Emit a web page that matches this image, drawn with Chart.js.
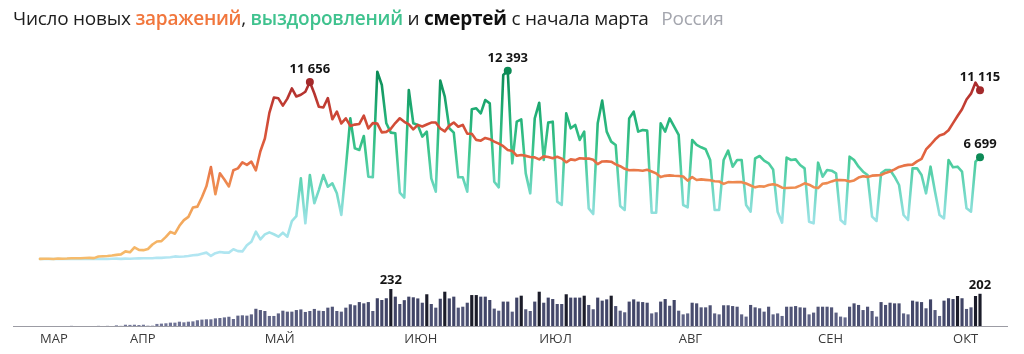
<!DOCTYPE html>
<html>
<head>
<meta charset="utf-8">
<script src="https://cdn.jsdelivr.net/npm/chart.js@4.4.0/dist/chart.umd.min.js"></script>
<style>
  html, body { margin: 0; padding: 0; background: #fff; }
  #wrap { position: relative; width: 1024px; height: 354px; overflow: hidden; }
  #title { position: absolute; left: 13px; top: 5px; z-index: 2; white-space: nowrap;
           font-family: "Open Sans", sans-serif; font-size: 19px; color: #1e1e1e; letter-spacing: -0.25px; }
  #title .inf { color: #f1763c; font-weight: 600; }
  #title .rec { color: #3fc28e; font-weight: 600; }
  #title .dth { color: #111; font-weight: 700; }
  #title .reg { color: #a4a6ae; margin-left: 8px; }
  canvas { position: absolute; left: 0; top: 0; }
</style>
</head>
<body>
<div id="wrap">
  <div id="title">Число новых <span class="inf">заражений</span>, <span class="rec">выздоровлений</span> и <span class="dth">смертей</span> с начала марта <span class="reg">Россия</span></div>
  <canvas id="chart" width="1024" height="354"></canvas>
</div>
<script>
// first day of the series: 12 March 2020
var startDate = new Date(2020, 2, 12);
var monthLabels = ['МАР', 'АПР', 'МАЙ', 'ИЮН', 'ИЮЛ', 'АВГ', 'СЕН', 'ОКТ'];

var infected = [
  6,17,14,4,34,21,33,52,54,53,61,71,57,163,182,196,228,270,302,501,
  440,771,601,582,658,954,1154,1175,1459,1786,1667,2186,2558,2774,3388,3448,4070,4785,6060,4268,
  5642,5236,4774,5849,5966,6361,6198,6411,5841,7099,
  7933,9623,10633,10581,10102,10559,11231,10699,10817,11012,11656,10899,10028,9974,10598,9200,
  9709,8926,9263,8764,8849,8894,9434,8599,8946,8915,8338,8371,8572,8952,9268,
  9035,8863,8536,8831,8726,8855,8984,8985,8595,8404,8779,8987,8706,8835,8246,8248,7843,7790,
  7972,7889,7728,7600,7425,7176,7113,6800,6852,6791,6719,6693,
  6556,6760,6718,6632,6736,6611,6368,6562,6509,6635,6611,6615,6537,6248,6422,6428,6406,6234,
  6109,5940,5842,5862,5848,5811,5871,5765,5635,5395,5475,5509,5482,
  5462,5427,5159,5394,5204,5241,5212,5189,5118,5102,4945,5061,5057,5065,5061,4969,4839,4718,
  4790,4767,4870,4921,4852,4696,4676,4696,4711,4829,4980,4897,4729,
  4670,4952,4995,5110,5205,5195,5185,5099,5172,5363,5449,5406,5488,5509,5529,5670,5762,5905,
  6065,6148,6196,6215,6431,6595,7212,7523,7867,8135,8232,8481,
  8945,9412,9859,10499,10888,11615,11115
];

var recovered = [
  0,0,2,1,0,0,3,0,5,1,0,8,3,2,9,0,20,23,11,27,
  19,28,43,49,50,45,86,73,101,118,
  170,150,160,200,250,270,350,420,200,380,
  460,420,420,640,520,500,900,1140,1800,1295,
  1620,1756,1630,1470,1730,1470,2500,2830,5310,2350,
  5530,3670,4540,5530,4760,4980,4330,2900,6000,9260,
  7290,7180,8100,5420,5380,12335,11458,8936,8320,8276,
  4378,4049,11129,8936,8826,8058,8387,5310,4433,11743,
  10690,8606,8320,5380,5380,4433,9856,9920,9592,10470,
  10250,5090,4718,12116,12393,6300,9043,9197,5640,4323,
  9260,10290,6520,8980,9043,3776,3556,9592,8606,8826,
  7838,8387,3337,2963,8936,10430,8387,7730,7510,3490,
  3227,9260,9700,8387,8497,8453,3050,3050,8936,8387,
  9260,8716,8167,3556,3403,7838,7510,7356,7225,6520,
  3227,3227,6520,7137,6080,6520,6520,3556,3118,6629,
  6782,6475,6300,5900,3117,2393,6673,6518,6562,6190,
  5970,2459,2350,6343,5422,5861,5817,5640,2568,2305,
  6738,6518,6080,5750,5531,2788,2503,5640,5861,5861,
  5422,4873,2897,2568,5970,5970,5531,4324,6080,4434,
  2897,2678,6518,6036,6080,5750,3337,3117,6408,6699
];

var deaths = [
  0,0,0,0,0,0,0,1,0,0,
  0,0,0,1,0,1,0,4,1,8,
  7,8,6,8,2,2,13,15,17,21,
  21,27,23,27,29,36,40,42,42,48,
  50,54,58,44,65,67,65,73,108,100,
  94,63,63,79,96,90,90,100,104,88,
  94,107,96,94,115,121,94,90,115,136,
  130,150,142,150,94,174,163,174,232,184,
  138,162,184,180,173,146,199,138,115,171,
  215,173,184,115,121,146,194,194,184,184,
  163,109,96,153,153,90,178,190,105,94,
  153,215,146,178,169,138,138,199,178,178,
  178,190,132,105,178,159,167,190,125,96,
  86,153,167,153,150,146,79,86,153,169,
  127,163,96,73,79,146,142,117,117,130,
  79,73,130,130,125,121,73,59,132,117,
  111,90,121,73,79,63,121,121,125,117,
  115,73,84,121,121,121,117,84,59,54,
  121,142,132,100,121,94,59,150,132,146,
  142,142,79,73,159,153,150,111,167,100,
  63,159,174,169,188,174,107,117,188,202
];

// day index -> date, ticks at the first day and every 1st of month
var dates = infected.map(function (v, i) {
  return new Date(startDate.getTime() + i * 86400000);
});
var tickDays = [0];
dates.forEach(function (d, i) { if (i > 0 && d.getDate() === 1) tickDays.push(i); });

function toXY(arr) { return arr.map(function (v, i) { return { x: i, y: v }; }); }
function fmt(v) { return String(v).replace(/\B(?=(\d{3})+(?!\d))/g, ' '); }
function argMax(arr) { return arr.indexOf(Math.max.apply(null, arr)); }

var last = infected.length - 1;
var infMarks = [argMax(infected), last];
var recMarks = [argMax(recovered), last];
var dthMarks = [argMax(deaths), last];

var infStops = [[0, '#f6bc6c'], [3000, '#f2a45a'], [5000, '#ee8a50'], [7000, '#e2623f'], [9500, '#cc4535'], [12000, '#a4262b']];
var recStops = [[0, '#b4e6f3'], [2600, '#9ae2e4'], [4500, '#6ed8c2'], [7000, '#3fc78f'], [9500, '#22b077'], [12400, '#0b8a55']];

function vGradient(chart, stops) {
  var area = chart.chartArea;
  if (!area) return null;
  var y = chart.scales.y;
  var top = stops[stops.length - 1][0];
  var g = chart.ctx.createLinearGradient(0, y.getPixelForValue(0), 0, y.getPixelForValue(top));
  stops.forEach(function (s) { g.addColorStop(s[0] / top, s[1]); });
  return g;
}

function mix(a, b, t) {
  var pa = [1, 3, 5].map(function (k) { return parseInt(a.substr(k, 2), 16); });
  var pb = [1, 3, 5].map(function (k) { return parseInt(b.substr(k, 2), 16); });
  return 'rgb(' + pa.map(function (c, i) { return Math.round(c + (pb[i] - c) * t); }).join(',') + ')';
}

function barColor(ctx) {
  var v = ctx.raw ? ctx.raw.y : 0;
  if (v >= 186) return '#1b1c29';
  return mix('#767a9c', '#404466', Math.min(v / 170, 1));
}

var valueLabels = {
  id: 'valueLabels',
  afterDatasetsDraw: function (chart) {
    var c = chart.ctx;
    c.save();
    c.font = 'bold 13px "Open Sans"';
    c.fillStyle = '#151515';
    c.textAlign = 'center';
    c.textBaseline = 'alphabetic';
    chart.data.datasets.forEach(function (ds, i) {
      var meta = chart.getDatasetMeta(i);
      ds.marks.forEach(function (j) {
        var el = meta.data[j];
        var gap = ds.type === 'bar' ? 5 : 9;
        c.fillText(fmt(ds.data[j].y), el.x, el.y - gap);
      });
    });
    c.restore();
  }
};

new Chart(document.getElementById('chart'), {
  type: 'bar',
  data: {
    datasets: [
      {
        type: 'line',
        data: toXY(infected),
        marks: infMarks,
        order: 0,
        yAxisID: 'y',
        borderWidth: 2.6,
        borderJoinStyle: 'round',
        borderCapStyle: 'round',
        tension: 0,
        borderColor: function (ctx) { return vGradient(ctx.chart, infStops) || '#e06040'; },
        pointRadius: function (ctx) { return infMarks.indexOf(ctx.dataIndex) >= 0 ? 4 : 0; },
        pointBackgroundColor: '#a3292b',
        pointBorderWidth: 0,
        pointHoverRadius: 0
      },
      {
        type: 'line',
        data: toXY(recovered),
        marks: recMarks,
        order: 1,
        yAxisID: 'y',
        borderWidth: 2.6,
        borderJoinStyle: 'round',
        borderCapStyle: 'round',
        tension: 0,
        borderColor: function (ctx) { return vGradient(ctx.chart, recStops) || '#3fc78f'; },
        pointRadius: function (ctx) { return recMarks.indexOf(ctx.dataIndex) >= 0 ? 4 : 0; },
        pointBackgroundColor: '#0d8a56',
        pointBorderWidth: 0,
        pointHoverRadius: 0
      },
      {
        type: 'bar',
        data: toXY(deaths),
        marks: dthMarks,
        order: 2,
        yAxisID: 'y2',
        backgroundColor: barColor,
        barPercentage: 0.7,
        categoryPercentage: 1
      }
    ]
  },
  options: {
    responsive: false,
    animation: false,
    events: [],
    layout: { padding: { left: 13, right: 17, top: 40, bottom: 0 } },
    plugins: { legend: { display: false }, tooltip: { enabled: false } },
    scales: {
      x: {
        type: 'linear',
        min: -6,
        max: 215,
        offset: false,
        grid: { display: false, drawTicks: false },
        border: { display: true, color: '#9c9ca4', width: 1 },
        afterBuildTicks: function (scale) {
          scale.ticks = tickDays.map(function (d) { return { value: d }; });
        },
        afterFit: function (scale) { scale.height = 28; },
        ticks: {
          autoSkip: false,
          maxRotation: 0,
          align: 'start',
          padding: 5,
          color: '#3a3a3a',
          font: { family: '"Open Sans"', size: 13 },
          callback: function (value) { return monthLabels[tickDays.indexOf(value)]; }
        }
      },
      y: { display: false, min: -4412, max: 14421 },
      y2: { display: false, min: 0, max: 1793 }
    }
  },
  plugins: [valueLabels]
});
</script>
</body>
</html>
